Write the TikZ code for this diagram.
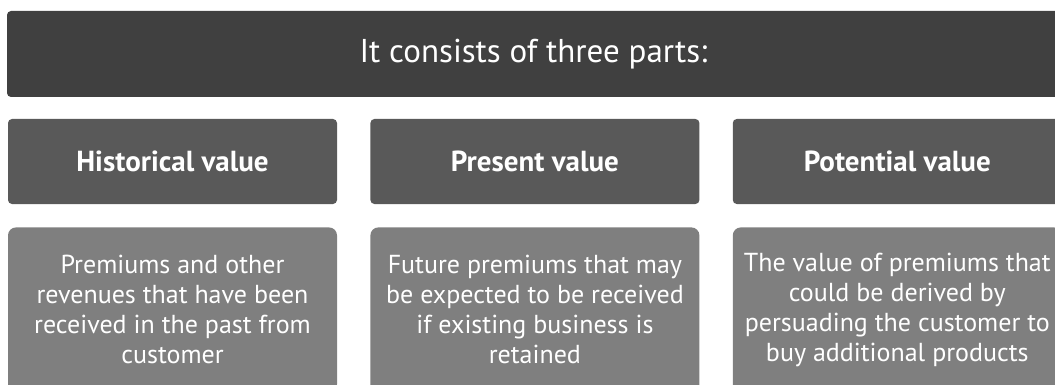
\documentclass[tikz,border=0pt]{standalone}
\usepackage{fontspec}
\setmainfont{PT Sans}
\usetikzlibrary{positioning}

\definecolor{grisfonce}{HTML}{404040}
\definecolor{grismoyen}{HTML}{595959}
\definecolor{grisclair}{HTML}{7F7F7F}

\tikzset{bandeau/.style = {fill=grisfonce, text=white, rounded corners=4pt,
                           minimum width=1053pt, minimum height=86pt,
                           font=\fontsize{33}{38}\selectfont},
         entete/.style = {fill=grismoyen, text=white, rounded corners=4pt,
                          minimum width=329pt, minimum height=85pt,
                          font=\bfseries\fontsize{29}{34}\selectfont},
         detail/.style = {fill=grisclair, text=white, rounded corners=8pt,
                          minimum width=329pt, minimum height=165pt,
                          align=center, font=\fontsize{26}{30}\selectfont}
        }

\begin{document}
\begin{tikzpicture}[x=1pt, y=-1pt]
  \useasboundingbox (0,0) rectangle (1055,385);
  \clip (0,0) rectangle (1055,385);
  \node[bandeau] (titre) at (533.5,54) {It consists of three parts:};
  \node[entete] (hist) at (172.5,161.5) {Historical value};
  \node[entete, right=33pt of hist] (pres) {Present value};
  \node[entete, right=33pt of pres] (pot) {Potential value};
  \node[detail, below=23pt of hist] (dhist)
      {Premiums and other\\ revenues that have been\\ received in the past from\\ customer};
  \node[detail, below=23pt of pres] (dpres)
      {Future premiums that may\\ be expected to be received\\ if existing business is\\ retained};
  \node[detail, below=23pt of pot] (dpot)
      {The value of premiums that\\ could be derived by\\ persuading the customer to\\ buy additional products};
\end{tikzpicture}
\end{document}
